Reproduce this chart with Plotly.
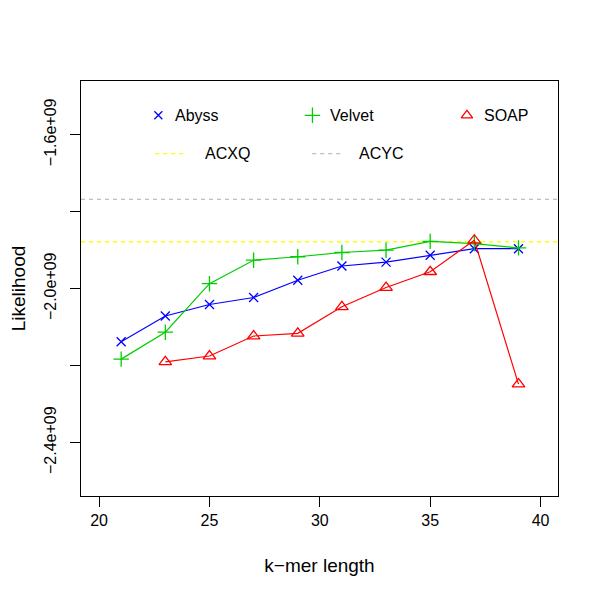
import plotly.graph_objects as go

kmer = [21, 23, 25, 27, 29, 31, 33, 35, 37, 39]
abyss = [-2.138e9, -2.071e9, -2.041e9, -2.023e9, -1.978e9, -1.941e9, -1.931e9, -1.913e9, -1.896e9, -1.896e9]
velvet = [-2.183e9, -2.113e9, -1.987e9, -1.926e9, -1.917e9, -1.906e9, -1.900e9, -1.877e9, -1.883e9, -1.894e9]
soap_k = [23, 25, 27, 29, 31, 33, 35, 37, 39]
soap = [-2.190e9, -2.175e9, -2.123e9, -2.116e9, -2.047e9, -1.997e9, -1.956e9, -1.874e9, -2.248e9]
acxq = -1.878e9
acyc = -1.768e9
xticks = [20, 25, 30, 35, 40]
yticks = [-1.6e9, -1.8e9, -2.0e9, -2.2e9, -2.4e9]
yticktext = ["\u22121.6e+09", "", "\u22122.0e+09", "", "\u22122.4e+09"]

BLUE = "#0000FF"
GREEN = "#00CD00"
RED = "#FF0000"
YELLOW = "#FFFF00"
GREY = "#BEBEBE"
FONT = "Liberation Sans, Arial, sans-serif"
DASH = "4px,4px"

XR = [19.18, 40.79]
YR = [-2.5387e9, -1.4603e9]

fig = go.Figure()

# reference lines
for val, col in [(acyc, GREY), (acxq, YELLOW)]:
    fig.add_trace(go.Scatter(x=XR, y=[val, val], mode="lines",
                             line=dict(color=col, width=1.3, dash=DASH),
                             showlegend=False, hoverinfo="skip"))

fig.add_trace(go.Scatter(x=kmer, y=abyss, mode="lines+markers", name="Abyss",
                         line=dict(color=BLUE, width=1.2),
                         marker=dict(symbol="x-thin-open", size=9, line=dict(color=BLUE, width=1.3)),
                         showlegend=False))
fig.add_trace(go.Scatter(x=kmer, y=velvet, mode="lines+markers", name="Velvet",
                         line=dict(color=GREEN, width=1.2),
                         marker=dict(symbol="cross-thin-open", size=11, line=dict(color=GREEN, width=1.3)),
                         showlegend=False))
fig.add_trace(go.Scatter(x=soap_k, y=soap, mode="lines+markers", name="SOAP",
                         line=dict(color=RED, width=1.2),
                         marker=dict(symbol="triangle-up-open", size=11, color=RED, line=dict(color=RED, width=1.3)),
                         showlegend=False))

# custom legend on overlay pixel axes (screen pixel coordinates)
leg_sym = [
    (158.3, 115, "x-thin-open", BLUE, 8, "Abyss", 173),
    (312.3, 115, "cross-thin-open", GREEN, 11, "Velvet", 328),
    (466.7, 115, "triangle-up-open", RED, 10, "SOAP", 482),
]
for x, y, sym, col, sz, lab, tx in leg_sym:
    fig.add_trace(go.Scatter(x=[x], y=[y], xaxis="x2", yaxis="y2", mode="markers",
                             marker=dict(symbol=sym, size=sz, color=col, line=dict(color=col, width=1.3)),
                             showlegend=False, hoverinfo="skip"))
    fig.add_annotation(x=tx, y=y, xref="x2", yref="y2", text=lab, showarrow=False,
                       xanchor="left", yanchor="middle", font=dict(size=16, color="black", family=FONT))
for x0, x1, y, col, lab, tx in [(155, 187, 153.3, YELLOW, "ACXQ", 203), (312, 342, 153.3, GREY, "ACYC", 357)]:
    fig.add_trace(go.Scatter(x=[x0, x1], y=[y, y], xaxis="x2", yaxis="y2", mode="lines",
                             line=dict(color=col, width=1.3, dash=DASH),
                             showlegend=False, hoverinfo="skip"))
    fig.add_annotation(x=tx, y=y, xref="x2", yref="y2", text=lab, showarrow=False,
                       xanchor="left", yanchor="middle", font=dict(size=16, color="black", family=FONT))

fig.update_layout(
    width=592, height=589,
    margin=dict(l=73, r=42.3, t=72.7, b=101.3, autoexpand=False),
    paper_bgcolor="white", plot_bgcolor="white",
    font=dict(family=FONT, size=16, color="black"),
    xaxis=dict(range=XR, tickvals=xticks, ticks="outside", ticklen=10, tickcolor="black",
               showgrid=False, zeroline=False, showline=True, linecolor="black", linewidth=1, mirror=True,
               automargin=False,
               title=dict(text="k\u2212mer length", standoff=30), tickfont=dict(size=16)),
    yaxis=dict(range=YR, tickvals=yticks, ticktext=yticktext, ticks="outside",
               ticklen=10, tickcolor="black", tickangle=-90, ticklabelstandoff=8,
               showgrid=False, zeroline=False, showline=True, linecolor="black", linewidth=1, mirror=True,
               automargin=False,
               title=dict(text="Likelihood", standoff=18), tickfont=dict(size=16)),
    xaxis2=dict(range=[81, 557.7], overlaying="x", visible=False, fixedrange=True),
    yaxis2=dict(range=[495.7, 80.7], overlaying="y", visible=False, fixedrange=True),
)

fig.write_html("out.html")
